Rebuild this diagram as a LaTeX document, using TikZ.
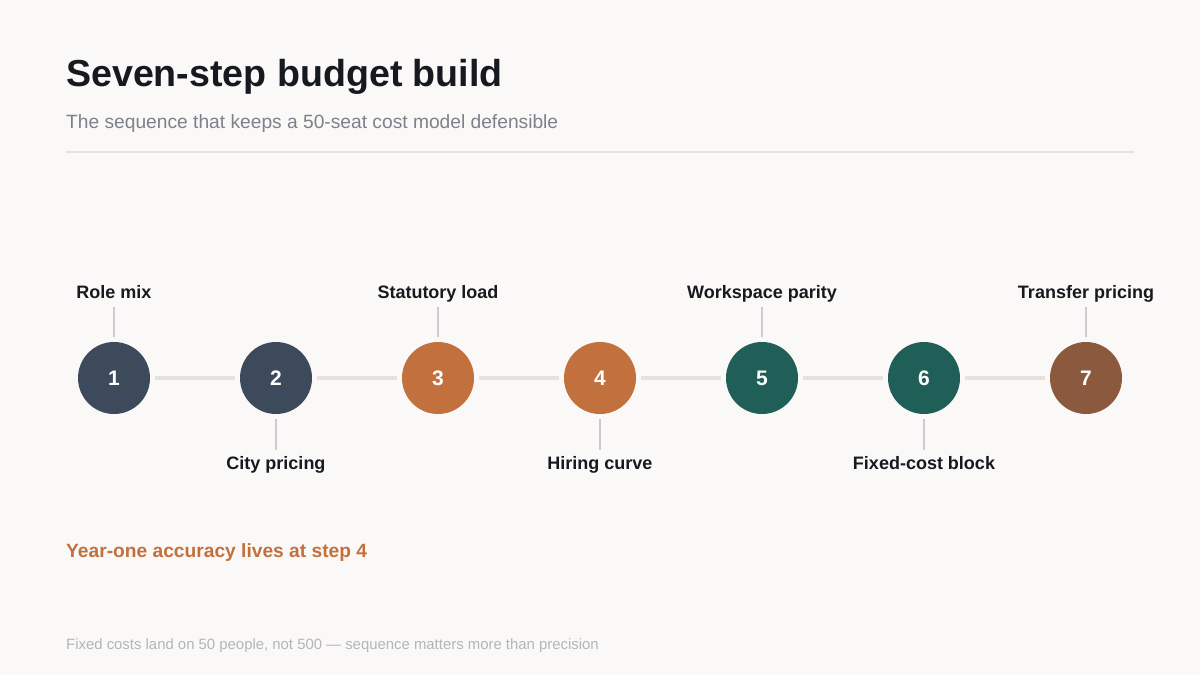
\documentclass[tikz,border=0pt]{standalone}
\usepackage{fontspec}
\setmainfont{Liberation Sans}
\definecolor{bg}{HTML}{FAF9F7}
\definecolor{ink}{HTML}{16191F}
\definecolor{subgray}{HTML}{7D818B}
\definecolor{rulegray}{HTML}{E6E3DE}
\definecolor{conngray}{HTML}{E6E2DC}
\definecolor{tickgray}{HTML}{C9CBD0}
\definecolor{footgray}{HTML}{B3B5BB}
\definecolor{slate}{HTML}{3D4A5C}
\definecolor{rust}{HTML}{C2703D}
\definecolor{teal}{HTML}{1F5F58}
\definecolor{brown}{HTML}{8B5A3E}
\tikzset{
  stepdot/.style={circle, inner sep=0pt, minimum size=72pt, text=white, font=\fontsize{21}{24}\selectfont\bfseries},
  conn/.style={draw=conngray, line width=4pt, shorten <=5pt, shorten >=5pt},
  tick/.style={draw=tickgray, line width=2pt, shorten <=5pt},
  lbl/.style={anchor=base, inner sep=0pt, text=ink, font=\fontsize{18}{21}\selectfont\bfseries},
}
\begin{document}
\begin{tikzpicture}[x=1pt,y=-1pt]
\fill[bg] (0,0) rectangle (1200,675);
\useasboundingbox (0,0) rectangle (1200,675);
\node[anchor=base west, inner sep=0pt, text=ink, font=\fontsize{37.6}{44}\selectfont\bfseries] (title) at (66,86) {Seven-step budget build};
\node[anchor=base west, inner sep=0pt, text=subgray, font=\fontsize{19.2}{23}\selectfont] (sub) at (66,128) {The sequence that keeps a 50-seat cost model defensible};
\coordinate (r0) at (66,152);
\coordinate (r1) at (1134,152);
\draw[rulegray, line width=2pt] (r0) -- (r1);
% steps
\node[stepdot, fill=slate] (s1) at (114,378) {1};
\node[stepdot, fill=slate] (s2) at (276,378) {2};
\node[stepdot, fill=rust] (s3) at (438,378) {3};
\node[stepdot, fill=rust] (s4) at (600,378) {4};
\node[stepdot, fill=teal] (s5) at (762,378) {5};
\node[stepdot, fill=teal] (s6) at (924,378) {6};
\node[stepdot, fill=brown] (s7) at (1086,378) {7};
\draw[conn] (s1) -- (s2);
\draw[conn] (s2) -- (s3);
\draw[conn] (s3) -- (s4);
\draw[conn] (s4) -- (s5);
\draw[conn] (s5) -- (s6);
\draw[conn] (s6) -- (s7);
% labels above
\node[lbl] (l1) at (114,298) {Role mix};
\node[lbl] (l3) at (438,298) {Statutory load};
\node[lbl] (l5) at (762,298) {Workspace parity};
\node[lbl] (l7) at (1086,298) {Transfer pricing};
\coordinate (t1) at (114,307);
\coordinate (t3) at (438,307);
\coordinate (t5) at (762,307);
\coordinate (t7) at (1086,307);
\draw[tick] (s1) -- (t1);
\draw[tick] (s3) -- (t3);
\draw[tick] (s5) -- (t5);
\draw[tick] (s7) -- (t7);
% labels below
\node[lbl] (l2) at (276,469) {City pricing};
\node[lbl] (l4) at (600,469) {Hiring curve};
\node[lbl] (l6) at (924,469) {Fixed-cost block};
\coordinate (t2) at (276,450);
\coordinate (t4) at (600,450);
\coordinate (t6) at (924,450);
\draw[tick] (s2) -- (t2);
\draw[tick] (s4) -- (t4);
\draw[tick] (s6) -- (t6);
% notes
\node[anchor=base west, inner sep=0pt, text=rust, font=\fontsize{19.2}{23}\selectfont\bfseries] (hl) at (66,557) {Year-one accuracy lives at step 4};
\node[anchor=base west, inner sep=0pt, text=footgray, font=\fontsize{14.9}{18}\selectfont] (foot) at (66,649) {Fixed costs land on 50 people, not 500 — sequence matters more than precision};
\end{tikzpicture}
\end{document}
